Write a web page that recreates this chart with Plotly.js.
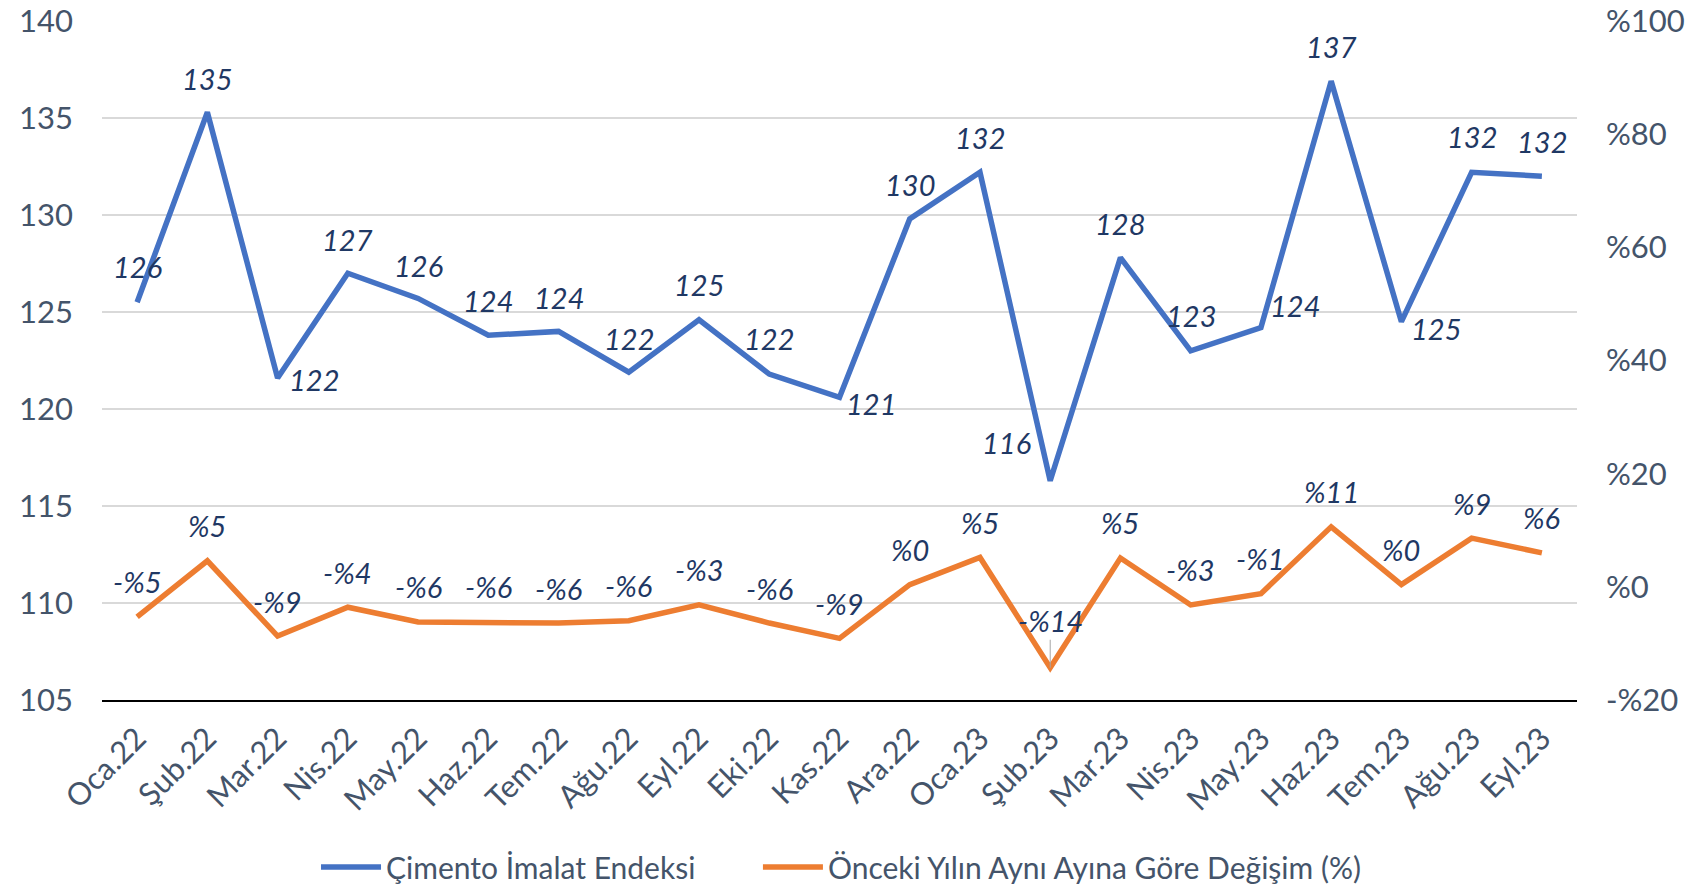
<!DOCTYPE html>
<html>
<head>
<meta charset="utf-8">
<script src="https://cdn.plot.ly/plotly-3.0.1.min.js"></script>
<style>
  html, body { margin: 0; padding: 0; background: #ffffff; }
  #chart { width: 1689px; height: 887px; }
</style>
</head>
<body>
<div id="chart"></div>
<script>
// ---- data ----
const categories = ['Oca.22','Şub.22','Mar.22','Nis.22','May.22','Haz.22','Tem.22','Ağu.22','Eyl.22','Eki.22','Kas.22','Ara.22','Oca.23','Şub.23','Mar.23','Nis.23','May.23','Haz.23','Tem.23','Ağu.23','Eyl.23'];
const cementIndex = [125.5,135.3,121.6,127.0,125.7,123.8,124.0,121.9,124.6,121.8,120.6,129.8,132.2,116.3,127.8,123.0,124.2,136.9,124.5,132.2,132.0];
const yoyChange = [-5.3,4.6,-8.7,-3.6,-6.2,-6.2,-6.4,-6.0,-3.2,-6.4,-9.1,0.4,5.2,-14.3,5.1,-3.2,-1.2,10.6,0.4,8.6,6.0];
const leftTicks = [105,110,115,120,125,130,135,140];
const rightTicks = [-20,0,20,40,60,80,100];
const seriesNames = ['Çimento İmalat Endeksi', 'Önceki Yılın Aynı Ayına Göre Değişim (%)'];

// ---- style: label offsets in pixels (dx right, dy down) ----
const blueDx = [0,0,36,0,0,0,0,0,0,0,31,0,0,-44,0,0,34,0,35,0,0];
const blueDy = [-36,-34,2,-34,-33,-35,-34,-34,-35,-36,6,-34,-35,-38,-34,-35,-22,-35,7,-36,-35];
const orangeDy = categories.map((c, i) => i === 13 ? -47 : -35);

const pctText = v => (v < 0 ? '-%' : '%') + Math.round(Math.abs(v));
const FONT = 'Lato, "Noto Sans", sans-serif';
const AXIS_COLOR = '#44546A';
const LABEL_COLOR = '#1F3864';

const traces = [
  {
    x: categories, y: cementIndex, name: seriesNames[0], type: 'scatter', mode: 'lines',
    line: { color: '#4472C4', width: 5.5 }, yaxis: 'y', legend: 'legend'
  },
  {
    x: categories, y: yoyChange, name: seriesNames[1], type: 'scatter', mode: 'lines',
    line: { color: '#ED7D31', width: 5.5 }, yaxis: 'y2', legend: 'legend2'
  }
];

const annotations = [];
categories.forEach((c, i) => {
  annotations.push({
    x: c, y: cementIndex[i], xref: 'x', yref: 'y',
    text: String(Math.round(cementIndex[i])), showarrow: false,
    xshift: blueDx[i], yshift: -blueDy[i],
    font: { family: FONT, size: 29, color: LABEL_COLOR, style: 'italic' }
  });
  const ann = {
    x: c, y: yoyChange[i], xref: 'x', yref: 'y2',
    text: pctText(yoyChange[i]),
    font: { family: FONT, size: 29, color: LABEL_COLOR, style: 'italic' }
  };
  if (i === 13) {
    Object.assign(ann, { showarrow: true, arrowhead: 0, arrowwidth: 1, arrowcolor: '#A6A6A6', ax: 0, ay: orangeDy[i], standoff: 0 });
  } else {
    Object.assign(ann, { showarrow: false, yshift: -orangeDy[i] });
  }
  annotations.push(ann);
});

const legendBase = {
  orientation: 'h', xanchor: 'left', y: -0.246, yanchor: 'middle',
  font: { family: FONT, size: 30, color: AXIS_COLOR }, itemwidth: 60,
  bgcolor: 'rgba(0,0,0,0)'
};

const layout = {
  width: 1689, height: 887,
  margin: { l: 102, r: 112, t: 21, b: 187, autoexpand: false },
  paper_bgcolor: '#ffffff', plot_bgcolor: '#ffffff',
  font: { family: FONT, size: 30, color: AXIS_COLOR },
  showlegend: true,
  legend: Object.assign({}, legendBase, { x: 0.1451 }),
  legend2: Object.assign({}, legendBase, { x: 0.4447 }),
  xaxis: {
    type: 'category', range: [-0.5, categories.length - 0.5], tickangle: -45,
    showgrid: false, zeroline: false, automargin: false,
    showline: true, linecolor: '#000000', linewidth: 2,
    ticks: '', tickfont: { family: FONT, size: 31, color: AXIS_COLOR },
    ticklabelstandoff: 6
  },
  yaxis: {
    range: [105, 140], tickvals: leftTicks, ticktext: leftTicks.map(String),
    showgrid: true, gridcolor: '#D9D9D9', gridwidth: 1.5, zeroline: false,
    showline: false, ticks: '', ticklabelstandoff: 28, automargin: false,
    tickfont: { family: FONT, size: 31, color: AXIS_COLOR }
  },
  yaxis2: {
    overlaying: 'y', side: 'right', range: [-20, 100],
    tickvals: rightTicks, ticktext: rightTicks.map(pctText), automargin: false,
    showgrid: false, zeroline: false, showline: false, ticks: '', ticklabelstandoff: 28,
    tickfont: { family: FONT, size: 31, color: AXIS_COLOR }
  },
  annotations: annotations,
  hovermode: false
};

Plotly.newPlot('chart', traces, layout, { displayModeBar: false, staticPlot: true });
</script>
</body>
</html>
